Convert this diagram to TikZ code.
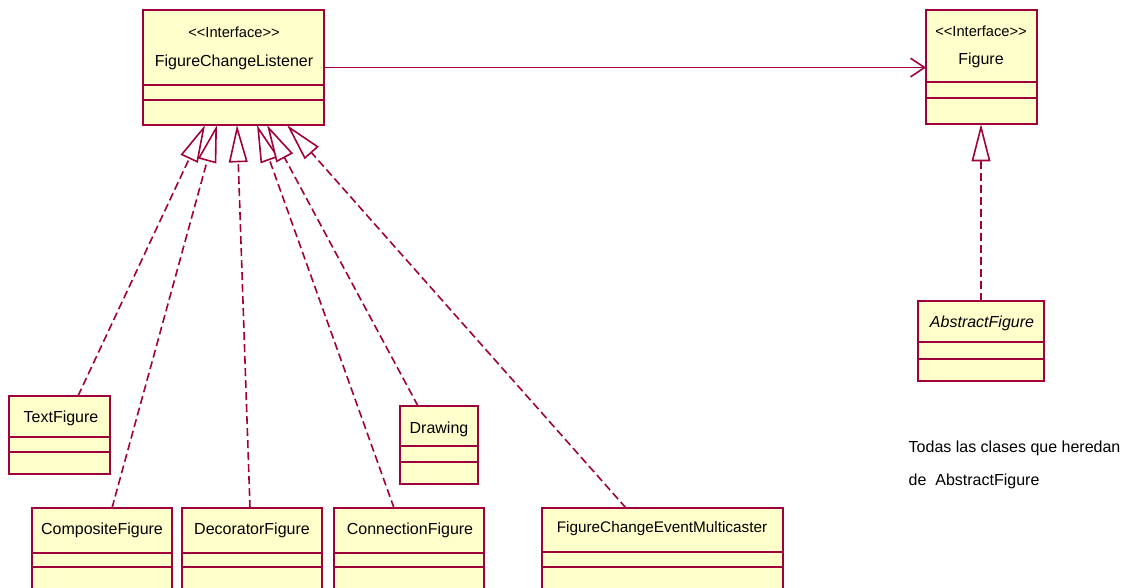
\documentclass[tikz,border=0pt]{standalone}
\usepackage{fontspec}
\setmainfont{Liberation Sans}
\usetikzlibrary{arrows.meta,positioning,calc,fit}
\definecolor{umlred}{RGB}{160,0,60}
\definecolor{umlfill}{RGB}{255,255,204}

\begin{document}
\begin{tikzpicture}[x=0.75pt,y=-0.75pt,>=Latex,font=\fontsize{12}{14}\selectfont,
  classbox/.style={draw=umlred,fill=umlfill,line width=1.5pt,inner sep=0pt,outer sep=0pt},
  compline/.style={draw=umlred,line width=1.1pt},
  stereo/.style={font=\fontsize{11}{13}\selectfont},
  realize/.style={draw=umlred,line width=1.2pt,dash pattern=on 6pt off 3pt,
    -{Triangle[length=28pt,width=14pt,fill=white]}},
  assoc/.style={draw=umlred,line width=1.2pt,-{Straight Barb[length=10.5pt,width=14pt]}}]
\clip (0,0) rectangle (1136,587);
\fill[white] (0,0) rectangle (1136,587);

% interfaces
\node[classbox,fit={(143,10) (324,125)}] (fcl) {};
\draw[compline] (143,85) -- (324,85) (143,100) -- (324,100);
\node[stereo] (fcls) at (234,32) {<\kern0pt<Interface>\kern0pt>};
\node (fcln) at (234,62) {FigureChangeListener};

\node[classbox,fit={(926,10) (1037,124)}] (fig) {};
\draw[compline] (926,82) -- (1037,82) (926,98) -- (1037,98);
\node[stereo] (figs) at (981,31) {<\kern0pt<Interface>\kern0pt>};
\node (fign) at (981,60) {Figure};

\node[classbox,fit={(918,301) (1044,381)}] (abs) {};
\draw[compline] (918,342) -- (1044,342) (918,359) -- (1044,359);
\node (absn) at (982,323) {\itshape AbstractFigure};

% implementing classes
\node[classbox,fit={(9,396) (110,474)}] (tf) {};
\draw[compline] (9,437) -- (110,437) (9,452) -- (110,452);
\node (tfn) at (61,418) {TextFigure};

\node[classbox,fit={(400,406) (478,484)}] (drw) {};
\draw[compline] (400,446) -- (478,446) (400,462) -- (478,462);
\node (drwn) at (439,429) {Drawing};

\node[classbox,fit={(32,508) (172,620)}] (cmp) {};
\draw[compline] (32,553) -- (172,553) (32,567) -- (172,567);
\node (cmpn) at (102,530) {CompositeFigure};

\node[classbox,fit={(182,508) (322,620)}] (dec) {};
\draw[compline] (182,553) -- (322,553) (182,567) -- (322,567);
\node (decn) at (252,530) {DecoratorFigure};

\node[classbox,fit={(334,508) (484,620)}] (con) {};
\draw[compline] (334,553) -- (484,553) (334,567) -- (484,567);
\node (conn) at (410,530) {ConnectionFigure};

\node[classbox,fit={(542,508) (783,620)}] (mul) {};
\draw[compline] (542,552) -- (783,552) (542,567) -- (783,567);
\node[font=\fontsize{11.5}{13}\selectfont] (muln) at (662,529) {FigureChangeEventMulticaster};

% note
\node[anchor=west] (note1) at (904,448) {Todas las clases que heredan};
\node[anchor=west] (note2) at (904,481) {de~~AbstractFigure};

% connectors
\draw[assoc] (fcl.east) -- (fcl.east -| fig.west);
\draw[realize] (abs.north) -- (abs.north |- fig.south);
\draw[realize] (78,0 |- tf.north) -- (205,0 |- fcl.south);
\draw[realize] (112,0 |- cmp.north) -- (217,0 |- fcl.south);
\draw[realize] (250,0 |- dec.north) -- (237,0 |- fcl.south);
\draw[realize] (394,0 |- con.north) -- (257,0 |- fcl.south);
\draw[realize] (418,0 |- drw.north) -- (267,0 |- fcl.south);
\draw[realize] (626,0 |- mul.north) -- (287,0 |- fcl.south);
\end{tikzpicture}
\end{document}
